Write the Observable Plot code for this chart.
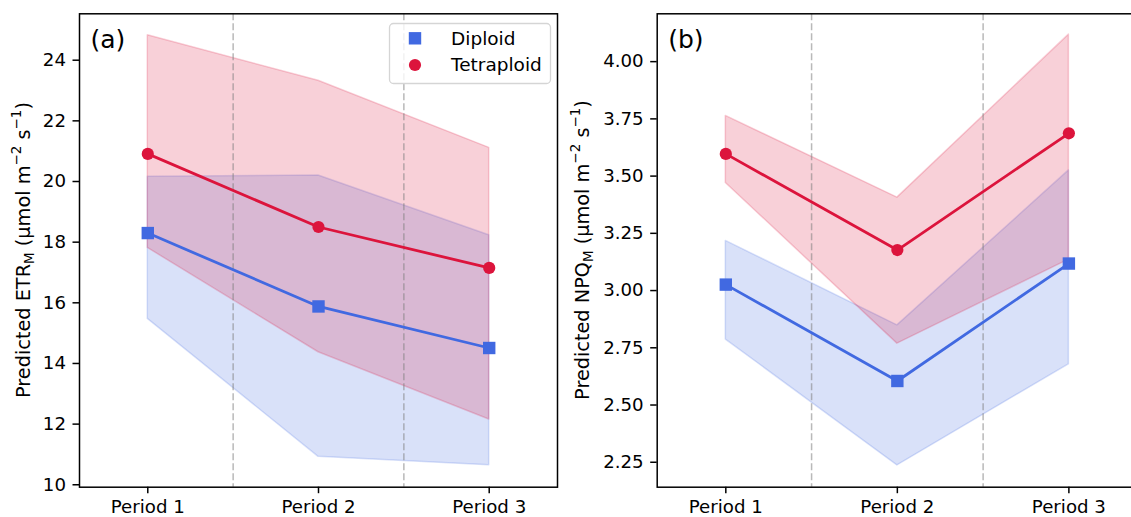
<!DOCTYPE html>
<html><head><meta charset="utf-8">
<script src="https://cdn.jsdelivr.net/npm/d3@7"></script>
<script src="https://cdn.jsdelivr.net/npm/@observablehq/plot@0.6"></script>
<style>
html,body{margin:0;padding:0;background:#fff;overflow:hidden}
#wrap{position:relative;width:1131px;height:517px;overflow:hidden;background:#fff}
#wrap svg{position:absolute;top:0}
</style>
</head><body>
<div id="wrap"></div>
<script>
// ---- data ----
const periods = ["Period 1", "Period 2", "Period 3"];
const periodIndex = [0, 1, 2];
const groups = ["Diploid", "Tetraploid"];
const groupColors = ["#4169E1", "#DC143C"];
const groupSymbols = ["square", "circle"];

const etrDiploidMean = [18.30, 15.88, 14.51];
const etrDiploidLow  = [15.47, 10.92, 10.64];
const etrDiploidHigh = [20.16, 20.20, 18.23];
const etrTetraMean   = [20.91, 18.50, 17.15];
const etrTetraLow    = [17.81, 14.37, 12.15];
const etrTetraHigh   = [24.82, 23.32, 21.11];

const npqDiploidMean = [3.026, 2.605, 3.118];
const npqDiploidLow  = [2.786, 2.236, 2.678];
const npqDiploidHigh = [3.217, 2.848, 3.525];
const npqTetraMean   = [3.597, 3.177, 3.687];
const npqTetraLow    = [3.470, 2.768, 3.135];
const npqTetraHigh   = [3.763, 3.406, 4.118];

const etrTicks = [10, 12, 14, 16, 18, 20, 22, 24];
const npqTicks = [2.25, 2.50, 2.75, 3.00, 3.25, 3.50, 3.75, 4.00];
const dividers = [0.5, 1.5];
const panelLetters = ["(a)", "(b)"];
const etrLabel = ["Predicted ETR", "M", " (µmol m", "−2", " s", "−1", ")"];
const npqLabel = ["Predicted NPQ", "M", " (µmol m", "−2", " s", "−1", ")"];

function rows(means, lows, highs) {
  return groups.flatMap((g, gi) => periodIndex.map(i => ({
    group: g, x: i, mean: means[gi][i], low: lows[gi][i], high: highs[gi][i]
  })));
}
const etrRows = rows([etrDiploidMean, etrTetraMean], [etrDiploidLow, etrTetraLow], [etrDiploidHigh, etrTetraHigh]);
const npqRows = rows([npqDiploidMean, npqTetraMean], [npqDiploidLow, npqTetraLow], [npqDiploidHigh, npqTetraHigh]);

const FS = 18.2;
const FONT = "DejaVu Sans, sans-serif";
const SQ_R = 7.0, CI_R = 6.1;

function panel({data, yDomain, yTicks, tickFormat, letter, width, marginLeft}) {
  const marks = [];
  groups.forEach((g, gi) => {
    marks.push(Plot.areaY(data.filter(d => d.group === g), {
      x: "x", y1: "low", y2: "high", fill: groupColors[gi], fillOpacity: 0.2,
      stroke: groupColors[gi], strokeOpacity: 0.2, strokeWidth: 1.5
    }));
  });
  marks.push(Plot.ruleX(dividers, {stroke: "#808080", strokeOpacity: 0.55, strokeWidth: 1.5, strokeDasharray: "7,3"}));
  groups.forEach((g, gi) => {
    const d = data.filter(r => r.group === g);
    marks.push(Plot.lineY(d, {x: "x", y: "mean", stroke: groupColors[gi], strokeWidth: 2.8}));
    marks.push(Plot.dot(d, {x: "x", y: "mean", symbol: () => groupSymbols[gi], fill: groupColors[gi],
      r: gi === 0 ? SQ_R : CI_R, stroke: "none"}));
  });
  marks.push(
    Plot.axisX({ticks: periodIndex, tickFormat: i => periods[i], tickSize: 6.5, tickPadding: 6.5, strokeWidth: 1.5, label: null, fontSize: FS}),
    Plot.axisY({ticks: yTicks, tickFormat, tickSize: 6.5, tickPadding: 7, strokeWidth: 1.5, label: null, fontSize: FS}),
    Plot.frame({stroke: "#000", strokeWidth: 1.5}),
    Plot.text([letter], {frameAnchor: "top-left", dx: 11, dy: 16, fontSize: 25, textAnchor: "start", lineAnchor: "top", fill: "#000"})
  );
  return Plot.plot({
    width, height: 517,
    marginLeft, marginRight: 13, marginTop: 13.3, marginBottom: 30.3,
    x: {domain: [-0.4, 2.4]},
    y: {domain: yDomain},
    style: {fontFamily: FONT, fontSize: FS + "px", color: "#000", background: "transparent", maxWidth: "none", overflow: "visible"},
    marks
  });
}

function yLabel(svg, x, cy, parts) {
  const fs = 19.3;
  const t = d3.select(svg).append("text")
    .attr("transform", `translate(${x},${cy}) rotate(-90)`)
    .attr("text-anchor", "middle").attr("font-family", FONT)
    .attr("font-size", fs).attr("fill", "#000");
  t.append("tspan").text(parts[0]);
  t.append("tspan").attr("font-size", fs * 0.7).attr("dy", 0.2 * fs).text(parts[1]);
  t.append("tspan").attr("dy", -0.2 * fs).text(parts[2]);
  t.append("tspan").attr("font-size", fs * 0.7).attr("dy", -0.45 * fs).text(parts[3]);
  t.append("tspan").attr("dy", 0.45 * fs).text(parts[4]);
  t.append("tspan").attr("font-size", fs * 0.7).attr("dy", -0.45 * fs).text(parts[5]);
  t.append("tspan").attr("dy", 0.45 * fs).text(parts[6]);
}

const wrap = document.getElementById("wrap");

const a = panel({data: etrRows, yDomain: [9.92, 25.53], yTicks: etrTicks, tickFormat: d3.format("d"),
  letter: panelLetters[0], width: 570, marginLeft: 79});
a.style.left = "0px";
wrap.appendChild(a);
yLabel(a, 30, 250, etrLabel);

// legend
const lg = d3.select(a).append("g");
lg.append("rect").attr("x", 389.5).attr("y", 23.5).attr("width", 161).attr("height", 60).attr("rx", 4)
  .attr("fill", "#fff").attr("fill-opacity", 0.8).attr("stroke", "#d5d5d5").attr("stroke-width", 1.3);
groups.forEach((g, gi) => {
  const cy = 38.3 + gi * 26.7;
  const sym = gi === 0 ? d3.symbol(d3.symbolSquare, Math.PI * SQ_R * SQ_R) : d3.symbol(d3.symbolCircle, Math.PI * CI_R * CI_R);
  lg.append("path").attr("d", sym()).attr("transform", `translate(415,${cy})`).attr("fill", groupColors[gi]);
  lg.append("text").attr("x", 451).attr("y", cy).attr("dy", "0.35em").attr("font-family", FONT)
    .attr("text-anchor", "start").attr("font-size", 18.5).attr("fill", "#000").text(g);
});

const b = panel({data: npqRows, yDomain: [2.141, 4.209], yTicks: npqTicks, tickFormat: d3.format(".2f"),
  letter: panelLetters[1], width: 580, marginLeft: 86.7});
b.style.left = "570px";
wrap.appendChild(b);
yLabel(b, 18.7, 250, npqLabel);
</script>
</body></html>
